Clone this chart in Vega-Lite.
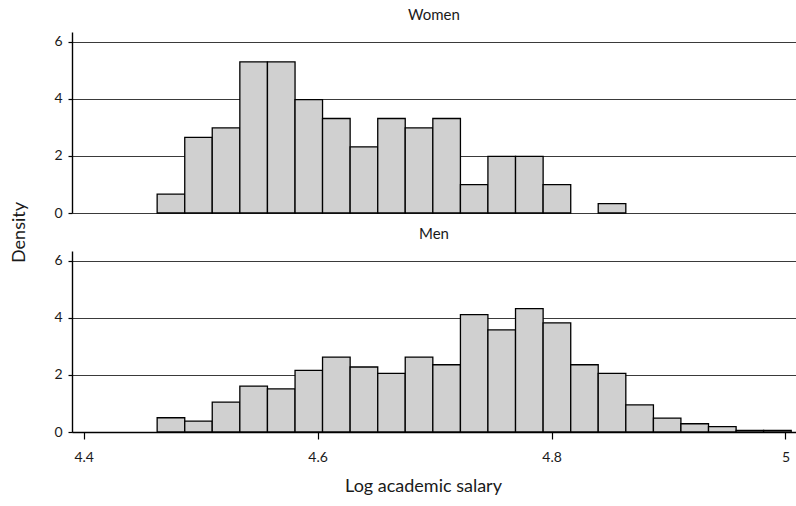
{
  "$schema": "https://vega.github.io/schema/vega-lite/v6.json",
  "background": "white",
  "padding": {"left": 10, "top": 8, "right": 0, "bottom": 6},
  "bounds": "flush",
  "spacing": 38,
  "config": {
    "font": "Lato",
    "view": {"stroke": null},
    "axis": {
      "labelFont": "Lato",
      "labelFontSize": 14,
      "labelColor": "#1a1a1a",
      "titleFont": "Lato",
      "titleFontSize": 18,
      "titleFontWeight": "normal",
      "titleColor": "#1a1a1a",
      "domainColor": "#000000",
      "domainWidth": 1.4,
      "tickColor": "#000000",
      "tickWidth": 1.2,
      "gridColor": "#3a3a3a",
      "gridWidth": 1.1,
      "gridOpacity": 1
    },
    "title": {
      "font": "Lato",
      "fontSize": 15,
      "fontWeight": "normal",
      "color": "#1a1a1a",
      "anchor": "middle",
      "offset": 9
    }
  },
  "datasets": {
    "salary": [
      {"sex": "Women", "bin_start": 4.4628, "bin_end": 4.4864, "density": 0.663},
      {"sex": "Women", "bin_start": 4.4864, "bin_end": 4.5099, "density": 2.652},
      {"sex": "Women", "bin_start": 4.5099, "bin_end": 4.5335, "density": 2.984},
      {"sex": "Women", "bin_start": 4.5335, "bin_end": 4.5571, "density": 5.304},
      {"sex": "Women", "bin_start": 4.5571, "bin_end": 4.5807, "density": 5.304},
      {"sex": "Women", "bin_start": 4.5807, "bin_end": 4.6042, "density": 3.978},
      {"sex": "Women", "bin_start": 4.6042, "bin_end": 4.6278, "density": 3.315},
      {"sex": "Women", "bin_start": 4.6278, "bin_end": 4.6514, "density": 2.321},
      {"sex": "Women", "bin_start": 4.6514, "bin_end": 4.6749, "density": 3.315},
      {"sex": "Women", "bin_start": 4.6749, "bin_end": 4.6985, "density": 2.984},
      {"sex": "Women", "bin_start": 4.6985, "bin_end": 4.7221, "density": 3.315},
      {"sex": "Women", "bin_start": 4.7221, "bin_end": 4.7456, "density": 0.995},
      {"sex": "Women", "bin_start": 4.7456, "bin_end": 4.7692, "density": 1.989},
      {"sex": "Women", "bin_start": 4.7692, "bin_end": 4.7928, "density": 1.989},
      {"sex": "Women", "bin_start": 4.7928, "bin_end": 4.8164, "density": 0.995},
      {"sex": "Women", "bin_start": 4.8399, "bin_end": 4.8635, "density": 0.332},
      {"sex": "Men", "bin_start": 4.4628, "bin_end": 4.4864, "density": 0.50},
      {"sex": "Men", "bin_start": 4.4864, "bin_end": 4.5099, "density": 0.385},
      {"sex": "Men", "bin_start": 4.5099, "bin_end": 4.5335, "density": 1.05},
      {"sex": "Men", "bin_start": 4.5335, "bin_end": 4.5571, "density": 1.61},
      {"sex": "Men", "bin_start": 4.5571, "bin_end": 4.5807, "density": 1.51},
      {"sex": "Men", "bin_start": 4.5807, "bin_end": 4.6042, "density": 2.16},
      {"sex": "Men", "bin_start": 4.6042, "bin_end": 4.6278, "density": 2.63},
      {"sex": "Men", "bin_start": 4.6278, "bin_end": 4.6514, "density": 2.28},
      {"sex": "Men", "bin_start": 4.6514, "bin_end": 4.6749, "density": 2.06},
      {"sex": "Men", "bin_start": 4.6749, "bin_end": 4.6985, "density": 2.63},
      {"sex": "Men", "bin_start": 4.6985, "bin_end": 4.7221, "density": 2.36},
      {"sex": "Men", "bin_start": 4.7221, "bin_end": 4.7456, "density": 4.12},
      {"sex": "Men", "bin_start": 4.7456, "bin_end": 4.7692, "density": 3.58},
      {"sex": "Men", "bin_start": 4.7692, "bin_end": 4.7928, "density": 4.33},
      {"sex": "Men", "bin_start": 4.7928, "bin_end": 4.8164, "density": 3.83},
      {"sex": "Men", "bin_start": 4.8164, "bin_end": 4.8399, "density": 2.36},
      {"sex": "Men", "bin_start": 4.8399, "bin_end": 4.8635, "density": 2.06},
      {"sex": "Men", "bin_start": 4.8635, "bin_end": 4.8871, "density": 0.95},
      {"sex": "Men", "bin_start": 4.8871, "bin_end": 4.9106, "density": 0.49},
      {"sex": "Men", "bin_start": 4.9106, "bin_end": 4.9342, "density": 0.29},
      {"sex": "Men", "bin_start": 4.9342, "bin_end": 4.9578, "density": 0.19},
      {"sex": "Men", "bin_start": 4.9578, "bin_end": 4.9813, "density": 0.06},
      {"sex": "Men", "bin_start": 4.9813, "bin_end": 5.0049, "density": 0.06}
    ]
  },
  "vconcat": [
    {
      "title": "Women",
      "width": 724,
      "height": 181,
      "data": {"name": "salary"},
      "transform": [{"filter": "datum.sex === 'Women'"}],
      "mark": {"type": "rect", "fill": "#d0d0d0", "stroke": "#000000", "strokeWidth": 1.3},
      "encoding": {
        "x": {
          "field": "bin_start",
          "type": "quantitative",
          "scale": {"domain": [4.39, 5.009], "nice": false, "zero": false},
          "axis": null
        },
        "x2": {"field": "bin_end"},
        "y": {
          "field": "density",
          "type": "quantitative",
          "scale": {"domain": [0, 6.35], "nice": false},
          "axis": {
            "values": [0, 2, 4, 6],
            "grid": true,
            "tickSize": 4,
            "labelPadding": 6,
            "title": "Density",
            "titleX": -53,
            "titleY": 200,
            "titleAlign": "center",
            "titleBaseline": "middle",
            "titleAngle": -90
          }
        },
        "y2": {"datum": 0}
      }
    },
    {
      "title": "Men",
      "width": 724,
      "height": 181,
      "data": {"name": "salary"},
      "transform": [{"filter": "datum.sex === 'Men'"}],
      "mark": {"type": "rect", "fill": "#d0d0d0", "stroke": "#000000", "strokeWidth": 1.3},
      "encoding": {
        "x": {
          "field": "bin_start",
          "type": "quantitative",
          "scale": {"domain": [4.39, 5.009], "nice": false, "zero": false},
          "axis": {
            "values": [4.4, 4.6, 4.8, 5],
            "format": "~g",
            "grid": false,
            "tickSize": 7,
            "labelPadding": 11,
            "labelFlush": false,
            "title": "Log academic salary",
            "titleX": 351,
            "titleAlign": "center",
            "titlePadding": 13
          }
        },
        "x2": {"field": "bin_end"},
        "y": {
          "field": "density",
          "type": "quantitative",
          "scale": {"domain": [0, 6.35], "nice": false},
          "axis": {
            "values": [0, 2, 4, 6],
            "grid": true,
            "tickSize": 4,
            "labelPadding": 6,
            "title": null
          }
        },
        "y2": {"datum": 0}
      }
    }
  ]
}
